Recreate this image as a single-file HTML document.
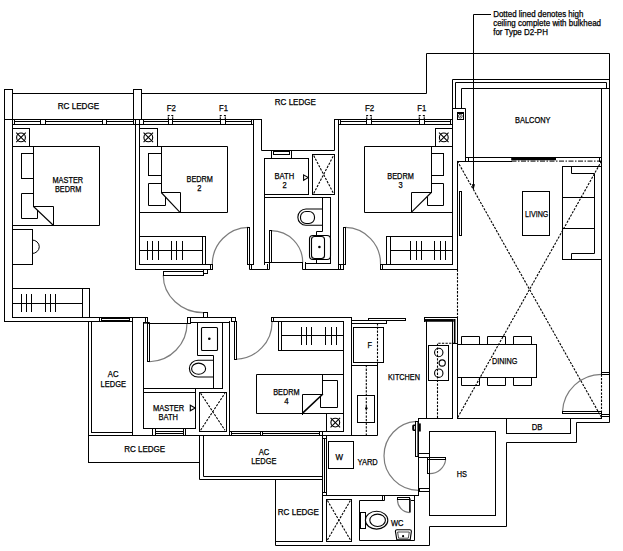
<!DOCTYPE html>
<html lang="en">
<head>
<meta charset="utf-8">
<title>Floor plan - Type D2</title>
<style>
html,body{margin:0;padding:0;background:#fff;}
body{width:623px;height:551px;overflow:hidden;font-family:"Liberation Sans",Arial,Helvetica,sans-serif;}
svg{display:block;}
</style>
</head>
<body>
<svg width="623" height="551" viewBox="0 0 623 551" role="img" aria-label="Floor plan">
<rect width="623" height="551" fill="#fff"/>
<g fill="none" stroke="#7c7c7c" stroke-width="1.2"><path d="M163.25 275.2A40 37.5 0 0 0 203.5 312.6"/><path d="M149.5 361.75A38.5 38.5 0 0 0 187 323"/><path d="M248.4 227.4A36.8 36.8 0 0 0 212.3 264.4"/><path d="M271.4 230.6A31.8 31.8 0 0 1 302.7 262.4"/><path d="M345.4 227.4A36 36 0 0 1 380.5 264.2"/><path d="M236.3 359.25A37 37 0 0 0 272 321.5"/><path d="M562.5 411.5A39 39 0 0 1 601.5 374.4"/><path d="M416 421.4A34.3 34.4 0 0 0 384 455.8A34.3 34.4 0 0 0 418.3 490.3"/><path d="M445.7 459.5A16.2 16.2 0 0 1 429.4 473.7"/><path d="M397.5 499.3A12.6 12.6 0 0 0 409.5 512.6"/></g>
<g fill="none" stroke="#000" stroke-width="1" stroke-linecap="square" stroke-linejoin="miter"><rect x="4.5" y="89.5" width="8" height="30"/><path d="M4.5 119.5L4.5 321.5"/><path d="M12.5 119.5L12.5 317.5"/><path d="M12.5 93.5L133.5 93.5"/><rect x="133.5" y="89.5" width="8" height="30"/><path d="M141.5 93.5L426.5 93.5L426.5 53.5L609.5 53.5L609.5 422.5L576.5 422.5L576.5 442.5L506.5 442.5L506.5 526.5L429.5 526.5L429.5 545.5L275.5 545.5L275.5 479.5"/><path d="M4.5 119.5L261.5 119.5"/><path d="M12.5 124.5L253.5 124.5"/><path d="M14.5 121.5L40.5 121.5"/><path d="M45.5 121.5L102.5 121.5"/><path d="M106.5 121.5L133.5 121.5"/><path d="M14.5 119.5L14.5 124.5"/><path d="M40.5 119.5L40.5 124.5"/><path d="M45.5 119.5L45.5 124.5"/><path d="M102.5 119.5L102.5 124.5"/><path d="M106.5 119.5L106.5 124.5"/><path d="M133.5 119.5L133.5 124.5"/><path d="M143.5 121.5L168.5 121.5"/><path d="M172.5 121.5L220.5 121.5"/><path d="M225.5 121.5L251.5 121.5"/><path d="M143.5 119.5L143.5 124.5"/><path d="M168.5 119.5L168.5 124.5"/><path d="M172.5 119.5L172.5 124.5"/><path d="M220.5 119.5L220.5 124.5"/><path d="M225.5 119.5L225.5 124.5"/><path d="M251.5 119.5L251.5 124.5"/><path d="M135.5 119.5L135.5 269.5"/><path d="M139.5 119.5L139.5 264.5"/><rect x="12.5" y="128.5" width="17" height="18"/><path d="M12.5 146.5L99.5 146.5L99.5 225.5L12.5 225.5"/><path d="M33.5 146.5L33.5 206.5"/><path d="M33.5 206.5L53.5 206.5L53.5 225.5"/><rect x="21.5" y="153.5" width="12" height="25"/><path d="M33.5 193.5L21.5 193.5L21.5 218.5L37.5 218.5L37.5 210.5"/><rect x="12.5" y="229.5" width="20" height="35"/><path d="M32.5 240A6.75 6.75 0 0 1 32.5 253.5"/><rect x="12.5" y="288.5" width="77" height="29"/><path d="M82.5 288.5L82.5 317.5"/><path d="M12.5 303.5L82.5 303.5"/><path d="M21.5 294.5L21.5 311.5"/><path d="M26.5 294.5L26.5 311.5"/><path d="M31.5 294.5L31.5 311.5"/><path d="M45.5 294.5L45.5 311.5"/><path d="M50.5 294.5L50.5 311.5"/><path d="M55.5 294.5L55.5 311.5"/><path d="M4.5 321.5L132.5 321.5"/><path d="M12.5 317.5L147.5 317.5"/><path d="M101.5 318.5L129.5 318.5"/><path d="M101.5 320.5L129.5 320.5"/><path d="M99.5 317.5L99.5 321.5"/><path d="M101.5 317.5L101.5 321.5"/><path d="M129.5 317.5L129.5 321.5"/><rect x="163.5" y="271.5" width="40" height="4"/><rect x="203.5" y="269.5" width="4" height="4"/><rect x="203.5" y="312.5" width="4" height="5"/><path d="M88.5 321.5L88.5 462.5"/><path d="M91.5 321.5L91.5 432.5"/><path d="M91.5 432.5L132.5 432.5"/><path d="M132.5 317.5L132.5 435.5"/><path d="M88.5 435.5L229.5 435.5"/><path d="M88.5 462.5L199.5 462.5"/><path d="M143.5 322.5L143.5 428.5"/><path d="M145.5 317.5L145.5 322.5"/><path d="M147.5 317.5L147.5 322.5"/><rect x="147.5" y="323.5" width="2" height="38"/><rect x="187.5" y="317.5" width="3" height="6"/><path d="M149.5 323.5L187.5 323.5"/><path d="M187.5 317.5L235.5 317.5"/><path d="M190.5 322.5L229.5 322.5"/><path d="M197.5 322.5L197.5 355.5L213.5 355.5L213.5 388.5"/><path d="M222.5 322.5L222.5 388.5"/><path d="M143.5 388.5L222.5 388.5"/><path d="M195.5 388.5L195.5 428.5"/><rect x="143.5" y="392.5" width="52" height="36"/><rect x="199.5" y="392.5" width="27" height="39"/><path d="M152.5 428.5L152.5 435.5"/><path d="M155.5 428.5L155.5 435.5"/><path d="M183.5 428.5L183.5 435.5"/><path d="M185.5 428.5L185.5 435.5"/><path d="M155.5 431.5L183.5 431.5"/><path d="M155.5 433.5L183.5 433.5"/><path d="M229.5 321.5L229.5 435.5"/><rect x="231.5" y="317.5" width="4" height="4"/><rect x="139.5" y="128.5" width="18" height="18"/><path d="M139.5 146.5L227.5 146.5L227.5 212.5L139.5 212.5"/><path d="M161.5 146.5L161.5 192.5"/><path d="M161.5 192.5L180.5 192.5L180.5 212.5"/><rect x="148.5" y="153.5" width="13" height="22"/><path d="M161.5 183.5L148.5 183.5L148.5 205.5L165.5 205.5L165.5 197.5"/><rect x="139.5" y="236.5" width="66" height="28"/><path d="M202.5 236.5L202.5 264.5"/><path d="M139.5 250.5L202.5 250.5"/><path d="M147.5 241.5L147.5 259.5"/><path d="M152.5 241.5L152.5 259.5"/><path d="M158.5 241.5L158.5 259.5"/><path d="M171.5 241.5L171.5 259.5"/><path d="M176.5 241.5L176.5 259.5"/><path d="M182.5 241.5L182.5 259.5"/><path d="M135.5 269.5L212.5 269.5"/><rect x="210.5" y="264.5" width="2" height="5"/><path d="M205.5 264.5L210.5 264.5"/><rect x="247.5" y="227.5" width="2" height="37"/><path d="M253.5 119.5L253.5 264.5"/><path d="M249.5 264.5L249.5 269.5L269.5 269.5L269.5 262.5"/><path d="M251.5 264.5L251.5 269.5"/><path d="M267.5 264.5L267.5 269.5"/><path d="M249.5 264.5L253.5 264.5"/><path d="M261.5 119.5L261.5 150.5L334.5 150.5L334.5 119.5"/><path d="M264.5 158.5L264.5 264.5"/><rect x="271.5" y="150.5" width="20" height="8"/><rect x="273.5" y="151.5" width="16" height="3"/><path d="M273.5 150.5L273.5 151.5"/><path d="M289.5 150.5L289.5 151.5"/><rect x="264.5" y="158.5" width="44" height="36"/><path d="M264.5 197.5L330.5 197.5"/><rect x="312.5" y="154.5" width="22" height="40"/><path d="M322.5 197.5L322.5 231.5L316.5 231.5L316.5 235.5"/><path d="M330.5 197.5L330.5 263.5"/><path d="M316.5 259.5L316.5 263.5L330.5 263.5"/><rect x="269.5" y="230.5" width="2" height="32"/><path d="M264.5 262.5L302.5 262.5"/><path d="M302.5 262.5L302.5 269.5L343.5 269.5"/><path d="M305.5 262.5L305.5 269.5"/><path d="M305.5 263.5L316.5 263.5"/><path d="M334.5 119.5L452.5 119.5"/><path d="M338.5 124.5L452.5 124.5"/><path d="M338.5 119.5L338.5 264.5"/><path d="M340.5 121.5L366.5 121.5"/><path d="M371.5 121.5L419.5 121.5"/><path d="M424.5 121.5L450.5 121.5"/><path d="M340.5 119.5L340.5 124.5"/><path d="M366.5 119.5L366.5 124.5"/><path d="M371.5 119.5L371.5 124.5"/><path d="M419.5 119.5L419.5 124.5"/><path d="M424.5 119.5L424.5 124.5"/><path d="M450.5 119.5L450.5 124.5"/><rect x="435.5" y="128.5" width="17" height="18"/><path d="M452.5 146.5L364.5 146.5L364.5 212.5L452.5 212.5"/><path d="M431.5 146.5L431.5 192.5"/><path d="M431.5 192.5L411.5 192.5L411.5 212.5"/><rect x="431.5" y="153.5" width="12" height="22"/><path d="M431.5 183.5L443.5 183.5L443.5 205.5L427.5 205.5L427.5 197.5"/><rect x="343.5" y="227.5" width="2" height="37"/><path d="M338.5 264.5L338.5 269.5"/><path d="M340.5 264.5L340.5 269.5"/><path d="M338.5 264.5L343.5 264.5"/><path d="M343.5 264.5L343.5 269.5"/><rect x="380.5" y="264.5" width="2" height="5"/><rect x="386.5" y="236.5" width="66" height="28"/><path d="M390.5 236.5L390.5 264.5"/><path d="M390.5 250.5L452.5 250.5"/><path d="M410.5 241.5L410.5 259.5"/><path d="M416.5 241.5L416.5 259.5"/><path d="M421.5 241.5L421.5 259.5"/><path d="M434.5 241.5L434.5 259.5"/><path d="M440.5 241.5L440.5 259.5"/><path d="M445.5 241.5L445.5 259.5"/><path d="M382.5 264.5L386.5 264.5"/><path d="M380.5 269.5L457.5 269.5"/><path d="M452.5 107.5L452.5 264.5"/><path d="M457.5 161.5L457.5 269.5"/><path d="M452.5 108.5L452.5 79.5L609.5 79.5"/><path d="M455.5 108.5L455.5 82.5L606.5 82.5L606.5 88.5"/><path d="M461.5 108.5L461.5 88.5L609.5 88.5"/><path d="M452.5 108.5L465.5 108.5L465.5 161.5"/><rect x="457.5" y="112.5" width="6" height="7"/><rect x="457.5" y="113.5" width="6" height="6"/><path d="M601.5 88.5L601.5 372.5"/><path d="M465.5 157.5L601.5 157.5"/><path d="M457.5 161.5L511.5 161.5"/><path d="M468.5 157.5L468.5 161.5"/><rect x="599.5" y="157.5" width="2" height="4"/><path d="M490.5 14.5L473.5 14.5L473.5 188.5"/><rect x="459.5" y="191.5" width="2" height="44"/><rect x="522.5" y="191.5" width="27" height="44"/><rect x="562.5" y="166.5" width="39" height="93"/><path d="M571.5 166.5L571.5 173.5L594.5 173.5L594.5 253.5L571.5 253.5L571.5 259.5"/><path d="M562.5 197.5L594.5 197.5"/><path d="M562.5 228.5L594.5 228.5"/><path d="M271.5 317.5L351.5 317.5"/><rect x="271.5" y="317.5" width="2" height="4"/><path d="M273.5 321.5L343.5 321.5"/><rect x="278.5" y="321.5" width="65" height="29"/><path d="M281.5 321.5L281.5 350.5"/><path d="M281.5 335.5L343.5 335.5"/><path d="M301.5 327.5L301.5 344.5"/><path d="M306.5 327.5L306.5 344.5"/><path d="M311.5 327.5L311.5 344.5"/><path d="M325.5 327.5L325.5 344.5"/><path d="M331.5 327.5L331.5 344.5"/><path d="M336.5 327.5L336.5 344.5"/><rect x="234.5" y="321.5" width="2" height="38"/><path d="M343.5 374.5L256.5 374.5L256.5 413.5L343.5 413.5"/><path d="M322.5 374.5L322.5 394.5"/><path d="M322.5 394.5L302.5 394.5L302.5 414.5"/><path d="M322.5 380.5L337.5 380.5L337.5 407.5L320.5 407.5L320.5 396.5"/><rect x="326.5" y="413.5" width="17" height="18"/><path d="M343.5 321.5L343.5 431.5"/><path d="M351.5 317.5L351.5 435.5"/><path d="M229.5 431.5L343.5 431.5"/><path d="M229.5 435.5L351.5 435.5"/><path d="M231.5 433.5L260.5 433.5"/><path d="M262.5 433.5L319.5 433.5"/><path d="M231.5 431.5L231.5 435.5"/><path d="M260.5 431.5L260.5 435.5"/><path d="M262.5 431.5L262.5 435.5"/><path d="M319.5 431.5L319.5 435.5"/><path d="M322.5 431.5L322.5 435.5"/><path d="M199.5 435.5L199.5 479.5L322.5 479.5"/><path d="M203.5 435.5L203.5 476.5L322.5 476.5"/><path d="M322.5 435.5L322.5 541.5"/><path d="M275.5 541.5L322.5 541.5"/><path d="M324.5 438.5L324.5 492.5"/><path d="M326.5 435.5L326.5 495.5"/><path d="M322.5 438.5L326.5 438.5"/><path d="M322.5 492.5L326.5 492.5"/><path d="M322.5 495.5L418.5 495.5"/><path d="M351.5 317.5L351.5 320.5L386.5 320.5"/><path d="M351.5 323.5L386.5 323.5"/><path d="M386.5 320.5L386.5 323.5"/><rect x="368.5" y="318.5" width="37" height="2"/><path d="M351.5 323.5L351.5 435.5L377.5 435.5L377.5 362.5"/><rect x="353.5" y="327.5" width="30" height="35"/><path d="M351.5 365.5L377.5 365.5"/><rect x="357.5" y="395.5" width="17" height="27"/><path d="M424.5 317.5L457.5 317.5"/><path d="M424.5 317.5L424.5 321.5"/><path d="M426.5 321.5L426.5 418.5"/><path d="M452.5 321.5L452.5 418.5"/><path d="M457.5 317.5L457.5 418.5"/><path d="M452.5 343.5L457.5 343.5"/><rect x="428.5" y="345.5" width="20" height="35"/><rect x="457.5" y="344.5" width="79" height="33"/><path d="M461.5 344.5L461.5 336.5L479.5 336.5L479.5 344.5"/><path d="M461.5 377.5L461.5 385.5L479.5 385.5L479.5 377.5"/><path d="M487.5 344.5L487.5 336.5L505.5 336.5L505.5 344.5"/><path d="M487.5 377.5L487.5 385.5L505.5 385.5L505.5 377.5"/><path d="M513.5 344.5L513.5 336.5L531.5 336.5L531.5 344.5"/><path d="M513.5 377.5L513.5 385.5L531.5 385.5L531.5 377.5"/><rect x="601.5" y="372.5" width="8" height="2"/><rect x="562.5" y="411.5" width="39" height="2"/><rect x="601.5" y="414.5" width="8" height="2"/><path d="M601.5 411.5L601.5 418.5"/><path d="M418.5 418.5L452.5 418.5"/><path d="M457.5 418.5L601.5 418.5"/><rect x="506.5" y="418.5" width="64" height="15"/><path d="M418.5 418.5L418.5 495.5"/><rect x="429.5" y="431.5" width="66" height="84"/><rect x="328.5" y="441.5" width="25" height="27"/><rect x="415.5" y="421.5" width="3" height="35"/><rect x="418.5" y="453.5" width="11" height="4"/><rect x="419.5" y="488.5" width="10" height="3"/><rect x="427.5" y="457.5" width="2" height="16"/><rect x="427.5" y="457.5" width="18" height="2"/><rect x="326.5" y="499.5" width="25" height="42"/><path d="M384.5 495.5L384.5 500.5L359.5 500.5L359.5 540.5L414.5 540.5L414.5 495.5"/><path d="M382.5 495.5L382.5 500.5"/><path d="M411.5 500.5L414.5 500.5"/><rect x="397.5" y="497.5" width="12" height="2"/><rect x="360.5" y="512.5" width="5" height="16"/></g>
<g fill="none" stroke="#000" stroke-width="1.1" stroke-linecap="butt" stroke-linejoin="miter"><path d="M168.3 119V117.3M168.3 116.4V115.5H169.7M171.3 115.5H172.7V116.4M172.7 117.3V119"/><path d="M220.3 119V117.3M220.3 116.4V115.5H221.7M223.9 115.5H225.3V116.4M225.3 117.3V119"/><path d="M366.75 119V117.3M366.75 116.4V115.5H368.15M369.85 115.5H371.25V116.4M371.25 117.3V119"/><path d="M419.25 119V117.3M419.25 116.4V115.5H420.65M422.85 115.5H424.25V116.4M424.25 117.3V119"/><circle cx="21" cy="137.4" r="4.4"/><path d="M16.25 132.65L25.75 142.15"/><path d="M16.25 142.15L25.75 132.65"/><path d="M33.25 206.25L53.25 225.25"/><rect x="201.5" y="327.5" width="16" height="23" rx="1"/><path d="M213.25 360.2L198 360.2A8.6 8.4 0 0 0 198 377L213.25 377"/><ellipse cx="198.6" cy="368.7" rx="7" ry="5.6"/><path d="M190.3 405.2L195.2 408L190.3 410.8Z"/><circle cx="148.3" cy="137.4" r="4.4"/><path d="M143.55 132.65L153.05 142.15"/><path d="M143.55 142.15L153.05 132.65"/><path d="M161.25 192.5L180 212.3"/><path d="M303.6 174.9L308.2 177.6L303.6 180.3Z"/><rect x="309.5" y="235.5" width="21" height="24" rx="3.5"/><rect x="311.5" y="236.5" width="13" height="22" rx="3"/><path d="M322.5 209L306 209A8.1 8.1 0 0 0 306 225.3L322.5 225.3"/><rect x="300.5" y="211.5" width="14" height="12" rx="5.5"/><circle cx="443.8" cy="137.4" r="4.4"/><path d="M439.05 132.65L448.55 142.15"/><path d="M439.05 142.15L448.55 132.65"/><path d="M431.25 192.5L411.25 212.3"/><circle cx="335.3" cy="422.6" r="4.4"/><path d="M330.55 417.85L340.05 427.35"/><path d="M330.55 427.35L340.05 417.85"/><circle cx="438.75" cy="352.5" r="4.2"/><circle cx="442.2" cy="363" r="3.1"/><circle cx="438.75" cy="373.2" r="4.2"/><ellipse cx="376.6" cy="520.2" rx="11.2" ry="8.9"/><ellipse cx="377.6" cy="520.3" rx="7.8" ry="6.2"/><path d="M395.4 531.2Q395.4 529.8 397 529.8H409.8Q411.4 529.8 411.4 531.2L410.2 539.7H396.8Z"/></g>
<g fill="none" stroke="#000" stroke-width="1.1" stroke-dasharray="2.3 1.3"><path d="M200.6 393.2L224.9 430.2"/><path d="M200.6 430.2L224.9 393.2"/><path d="M313.7 155.6L333.5 193.4"/><path d="M313.7 193.4L333.5 155.6"/><path d="M457.5 269.5L457.5 317.5"/><path d="M457.4 161.1L601.5 417.5"/><path d="M601.5 161.1L457.4 418"/><path d="M377.5 323.25L377.5 362.5"/><path d="M366.3 365L366.3 435.2"/><path d="M455 343.3L437.5 343.3L437.5 418.2"/><path d="M601.5 374.4L601.5 411.5"/><path d="M327.4 500.5L350.4 539.9"/><path d="M327.4 539.9L350.4 500.5"/></g>
<g fill="none" stroke="#000" stroke-width="1" stroke-dasharray="5 1.5 1.5 1.5"><path d="M511.5 161.1L601.6 161.1"/></g>
<g fill="none" stroke="#000" stroke-width="2.7"><path d="M511.2 158.9L556 158.9"/><path d="M424.3 320.4L453.8 320.4"/></g>
<g fill="none" stroke="#000" stroke-width="1.6"><path d="M143.4 322.8L149.8 322.8"/><path d="M322.9 394L302.6 413.2"/><path d="M454.7 319L454.7 343.8"/><path d="M418.2 421.4L418.2 456.5"/><path d="M409.9 498.5L409.9 512.6"/></g>
<g fill="none" stroke="#000" stroke-width="0.7"><circle cx="460.3" cy="116.2" r="1.9"/><path d="M397.6 532H409.3L408.3 538.2H398.6Z"/></g>
<g fill="#000" stroke="none"><circle cx="209.3" cy="338.8" r="1.3"/><circle cx="319.4" cy="247" r="1.3"/><circle cx="460.3" cy="116.2" r="0.6"/><path d="M471.8 184.3L475 184.3L473.4 190.3Z"/><circle cx="366.3" cy="408.3" r="1.2"/><path d="M415.5 424.4H413.6Q412.2 424.4 412.2 426V429.3Q412.2 430.9 413.6 430.9H415.5V429.4H414.2V425.9H415.5Z"/><rect x="418.3" y="423.4" width="2.5" height="8.1"/><circle cx="403.1" cy="536.2" r="1.1"/></g>
<g fill="#000" stroke="#000" stroke-width="0.25" font-family="'Liberation Sans', Arial, Helvetica, sans-serif"><text x="493.2" y="17.1" font-size="8.3" textLength="90.2" lengthAdjust="spacingAndGlyphs">Dotted lined denotes high</text><text x="493.2" y="26.2" font-size="8.3" textLength="107.8" lengthAdjust="spacingAndGlyphs">ceiling complete with bulkhead</text><text x="493.2" y="35.3" font-size="8.3" textLength="54.7" lengthAdjust="spacingAndGlyphs">for Type D2-PH</text><text x="57.7" y="109.3" font-size="8.4" textLength="41.4" lengthAdjust="spacingAndGlyphs">RC LEDGE</text><text x="274.8" y="104.9" font-size="8.4" textLength="41.1" lengthAdjust="spacingAndGlyphs">RC LEDGE</text><text x="166.8" y="110.8" font-size="8.4" textLength="9.2" lengthAdjust="spacingAndGlyphs">F2</text><text x="219" y="110.8" font-size="8.4" textLength="9" lengthAdjust="spacingAndGlyphs">F1</text><text x="365" y="110.8" font-size="8.4" textLength="9.3" lengthAdjust="spacingAndGlyphs">F2</text><text x="417.3" y="110.8" font-size="8.4" textLength="9" lengthAdjust="spacingAndGlyphs">F1</text><text x="515" y="123.3" font-size="8.4" textLength="35.5" lengthAdjust="spacingAndGlyphs">BALCONY</text><text x="52.5" y="183" font-size="8.4" textLength="30.6" lengthAdjust="spacingAndGlyphs">MASTER</text><text x="55" y="192" font-size="8.4" textLength="26.3" lengthAdjust="spacingAndGlyphs">BEDRM</text><text x="186.5" y="182.2" font-size="8.4" textLength="26.4" lengthAdjust="spacingAndGlyphs">BEDRM</text><text x="197.3" y="191" font-size="8.4" textLength="4.2" lengthAdjust="spacingAndGlyphs">2</text><text x="274.5" y="179.2" font-size="8.4" textLength="19.7" lengthAdjust="spacingAndGlyphs">BATH</text><text x="282.5" y="188" font-size="8.4" textLength="4.2" lengthAdjust="spacingAndGlyphs">2</text><text x="387.3" y="179.2" font-size="8.4" textLength="26.5" lengthAdjust="spacingAndGlyphs">BEDRM</text><text x="398.5" y="188" font-size="8.4" textLength="4.2" lengthAdjust="spacingAndGlyphs">3</text><text x="525" y="217" font-size="8.4" textLength="23.3" lengthAdjust="spacingAndGlyphs">LIVING</text><text x="107.8" y="377.3" font-size="8.4" textLength="10.7" lengthAdjust="spacingAndGlyphs">AC</text><text x="100.5" y="386.8" font-size="8.4" textLength="25.5" lengthAdjust="spacingAndGlyphs">LEDGE</text><text x="153" y="411" font-size="8.4" textLength="31.3" lengthAdjust="spacingAndGlyphs">MASTER</text><text x="158.5" y="419.8" font-size="8.4" textLength="19.5" lengthAdjust="spacingAndGlyphs">BATH</text><text x="273.2" y="395" font-size="8.4" textLength="26.4" lengthAdjust="spacingAndGlyphs">BEDRM</text><text x="284.2" y="404.2" font-size="8.4" textLength="4.4" lengthAdjust="spacingAndGlyphs">4</text><text x="367.5" y="348" font-size="8.4" textLength="4.5" lengthAdjust="spacingAndGlyphs">F</text><text x="388" y="380" font-size="8.4" textLength="32" lengthAdjust="spacingAndGlyphs">KITCHEN</text><text x="492" y="364.3" font-size="8.4" textLength="25.5" lengthAdjust="spacingAndGlyphs">DINING</text><text x="124.2" y="452.3" font-size="8.4" textLength="41" lengthAdjust="spacingAndGlyphs">RC LEDGE</text><text x="258.7" y="455.3" font-size="8.4" textLength="10.5" lengthAdjust="spacingAndGlyphs">AC</text><text x="251.2" y="464" font-size="8.4" textLength="25.2" lengthAdjust="spacingAndGlyphs">LEDGE</text><text x="335.5" y="460.3" font-size="8.4" textLength="7.5" lengthAdjust="spacingAndGlyphs">W</text><text x="357.5" y="464.8" font-size="8.4" textLength="20.3" lengthAdjust="spacingAndGlyphs">YARD</text><text x="456.8" y="477.3" font-size="8.4" textLength="10.2" lengthAdjust="spacingAndGlyphs">HS</text><text x="531.8" y="430" font-size="8.4" textLength="10.7" lengthAdjust="spacingAndGlyphs">DB</text><text x="277.8" y="515.3" font-size="8.4" textLength="41.2" lengthAdjust="spacingAndGlyphs">RC LEDGE</text><text x="391" y="526" font-size="8.4" textLength="12.5" lengthAdjust="spacingAndGlyphs">WC</text></g>
</svg>
</body>
</html>
